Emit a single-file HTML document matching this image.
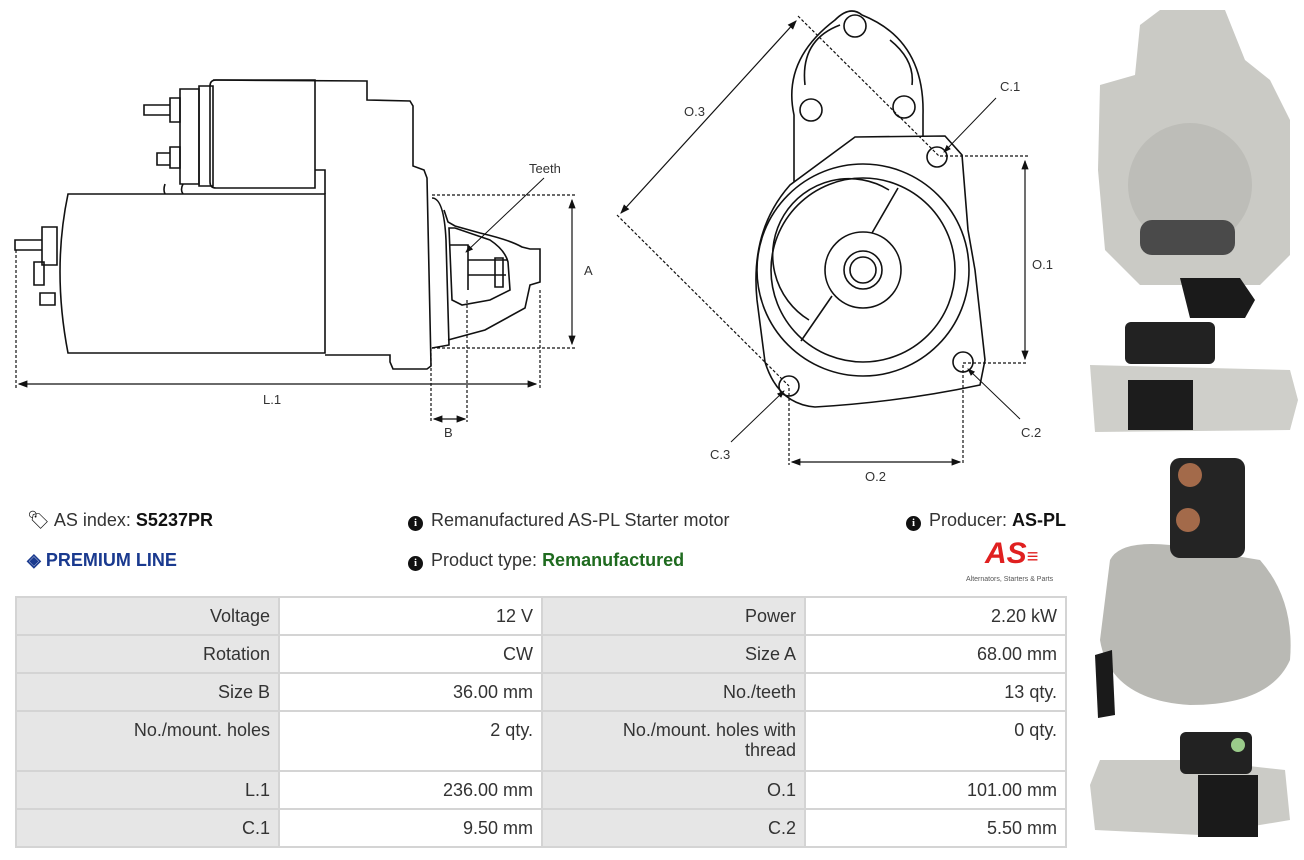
<!DOCTYPE html>
<html><head><meta charset="utf-8"><style>
body{margin:0;width:1304px;height:860px;background:#fff;font-family:"Liberation Sans",sans-serif;position:relative;overflow:hidden}
.t{position:absolute;font-size:18px;color:#333;white-space:nowrap;line-height:20px}
.i{display:inline-block;width:15px;height:15px;border-radius:50%;background:#111;color:#fff;font-size:11px;font-weight:bold;text-align:center;line-height:15px;font-family:"Liberation Serif",serif;vertical-align:0px;margin-right:3px}
table{position:absolute;left:15px;top:596px;border-collapse:collapse;width:1052px;font-size:18px;color:#333}
td{border:2px solid #d4d4d4;padding:8px 8px;text-align:right;vertical-align:top;height:20px;line-height:20px}
td.l{background:#e6e6e6}
</style></head><body>
<svg width="1304" height="860" style="position:absolute;left:0;top:0" fill="none" stroke="#111" stroke-width="1.6" font-family="Liberation Sans" font-size="13">
<defs><marker id="a" markerWidth="8" markerHeight="8" refX="7" refY="4" orient="auto-start-reverse"><path d="M0,1L8,4L0,7z" fill="#111" stroke="none"/></marker></defs>
<path d="M68,194 L325,194 L325,353 L68,353 Q52,270 68,194 Z"/>
<path d="M213,80 L367,81 L367,100 L410,101 L413,106 L413,166 L424,170 L427,178 L431,366 L427,369 L393,369 L390,362 L390,355 L325,355"/>
<path d="M216,80 L315,80 L315,188 L216,188 Q210,188 210,182 L210,86 Q210,80 216,80 Z"/>
<path d="M199,86 L213,86 L213,186 L199,186 Z"/>
<path d="M180,89 L199,89 L199,184 L180,184 Z"/>
<path d="M315,170 L325,170 L325,194"/>
<path d="M170,98 L180,98 L180,122 L170,122 Z M144,105 L170,105 L170,115 L144,115 Z M170,147 L180,147 L180,168 L170,168 Z M157,153 L170,153 L170,165 L157,165 Z"/>
<path d="M165,184 Q163,190 165,194 M183,184 Q180,190 183,194"/>
<path d="M42,227 L57,227 L57,265 L42,265 Z M15,240 L42,240 L42,250 L15,250 Z M34,262 L44,262 L44,285 L34,285 Z M40,293 L55,293 L55,305 L40,305 Z"/>
<path d="M432,198 Q444,198 446,240 L449,345 L432,348"/>
<path d="M444,210 L448,222 L455,226 L480,233 Q510,240 522,247 L530,249 L540,249 L540,282 L530,285 L525,308 L485,330 L448,340"/>
<path d="M449,228 L455,228 L490,240 Q505,250 508,262 L510,290 L490,300 L462,305 L452,300 Z"/>
<path d="M450,245 L468,245 L468,290 M468,260 L508,260 M495,258 L503,258 L503,287 L495,287 Z M468,275 L506,275"/>
<line x1="544" y1="178" x2="466" y2="252" stroke-width="1" marker-end="url(#a)"/>
<text x="529" y="173" fill="#333" stroke="none">Teeth</text>
<g stroke-dasharray="3,2" stroke-width="1.2">
<path d="M432,195 L575,195 M432,348 L575,348 M16,250 L16,388 M540,290 L540,388 M431,348 L431,422 M467,300 L467,422"/>
</g>
<line x1="572" y1="200" x2="572" y2="344" stroke-width="1.2" marker-start="url(#a)" marker-end="url(#a)"/>
<line x1="19" y1="384" x2="536" y2="384" stroke-width="1.2" marker-start="url(#a)" marker-end="url(#a)"/>
<line x1="434" y1="419" x2="465" y2="419" stroke-width="1.2" marker-start="url(#a)" marker-end="url(#a)"/>
<text x="584" y="275" fill="#333" stroke="none">A</text>
<text x="263" y="404" fill="#333" stroke="none">L.1</text>
<text x="444" y="437" fill="#333" stroke="none">B</text>
<path d="M794,182 L794,115 Q782,60 835,20 Q850,5 862,15 Q925,40 923,115 L923,136"/>
<path d="M805,85 Q800,40 840,25 M890,40 Q915,60 912,85"/>
<circle cx="855" cy="26" r="11"/><circle cx="811" cy="110" r="11"/><circle cx="904" cy="107" r="11"/>
<path d="M855,137 L945,136 L962,155 L968,230 L975,270 L985,360 L980,385 Q900,402 815,407 Q778,404 765,362 L757,300 Q750,230 790,185 Z"/>
<circle cx="863" cy="270" r="106"/><circle cx="863" cy="270" r="92"/>
<path d="M889,190 A73,73 0 1,0 809,320"/>
<path d="M898,188 L872,233 M832,296 L801,341"/>
<circle cx="863" cy="270" r="38"/><circle cx="863" cy="270" r="19"/><circle cx="863" cy="270" r="13"/>
<circle cx="937" cy="157" r="10"/><circle cx="963" cy="362" r="10"/><circle cx="789" cy="386" r="10"/>
<g stroke-dasharray="3,2" stroke-width="1.2">
<path d="M798,16 L940,157 M617,215 L789,386 M940,156 L1028,156 M963,363 L1028,363 M789,388 L789,465 M963,365 L963,465"/>
</g>
<line x1="796" y1="21" x2="621" y2="213" stroke-width="1.2" marker-start="url(#a)" marker-end="url(#a)"/>
<line x1="1025" y1="161" x2="1025" y2="359" stroke-width="1.2" marker-start="url(#a)" marker-end="url(#a)"/>
<line x1="792" y1="462" x2="960" y2="462" stroke-width="1.2" marker-start="url(#a)" marker-end="url(#a)"/>
<line x1="996" y1="98" x2="944" y2="152" stroke-width="1" marker-end="url(#a)"/>
<line x1="1020" y1="419" x2="968" y2="369" stroke-width="1" marker-end="url(#a)"/>
<line x1="731" y1="442" x2="784" y2="391" stroke-width="1" marker-end="url(#a)"/>
<g fill="#333" stroke="none"><text x="684" y="116">O.3</text><text x="1000" y="91">C.1</text><text x="1032" y="269">O.1</text><text x="1021" y="437">C.2</text><text x="710" y="459">C.3</text><text x="865" y="481">O.2</text></g>
<g stroke="none">
<path d="M1100,85 L1135,75 L1140,25 L1160,10 L1225,10 L1245,60 L1270,80 L1290,120 L1290,255 L1260,285 L1140,285 L1105,250 L1098,170 Z" fill="#cacac5"/>
<circle cx="1190" cy="185" r="62" fill="#bdbdb8"/><rect x="1140" y="220" width="95" height="35" rx="12" fill="#4a4a4a"/>
<path d="M1180,278 L1240,278 L1255,300 L1245,318 L1190,318 Z" fill="#1a1a1a"/>
<path d="M1090,365 L1290,370 L1298,400 L1290,430 L1095,432 Z" fill="#cfcfca"/>
<rect x="1125" y="322" width="90" height="42" rx="6" fill="#222"/><rect x="1128" y="380" width="65" height="50" fill="#1c1c1c"/>
<path d="M1110,560 Q1120,540 1170,545 L1260,560 Q1295,600 1290,660 Q1270,705 1190,705 Q1110,700 1100,640 Z" fill="#b9b9b4"/>
<rect x="1170" y="458" width="75" height="100" rx="10" fill="#242424"/>
<circle cx="1190" cy="475" r="12" fill="#a36a4a"/><circle cx="1188" cy="520" r="12" fill="#a36a4a"/>
<path d="M1095,655 L1112,650 L1115,715 L1098,718 Z" fill="#1a1a1a"/>
<path d="M1090,785 L1100,760 L1195,760 L1285,770 L1290,820 L1200,835 L1095,830 Z" fill="#cbcbc6"/>
<rect x="1180" y="732" width="72" height="42" rx="6" fill="#222"/><rect x="1198" y="775" width="60" height="62" fill="#1a1a1a"/>
<circle cx="1238" cy="745" r="7" fill="#9acb8a"/>
</g>
</svg>
<div class="t" style="left:27px;top:510px"><span style="color:#111">&#x1F3F7;&#xFE0E;</span> AS index: <b style="color:#111">S5237PR</b></div>
<div class="t" style="left:27px;top:550px;color:#1a3a8f;font-weight:bold">&#9672; PREMIUM LINE</div>
<div class="t" style="left:408px;top:510px"><span class="i">i</span> Remanufactured AS-PL Starter motor</div>
<div class="t" style="left:408px;top:550px"><span class="i">i</span> Product type: <b style="color:#1f6b1f">Remanufactured</b></div>
<div class="t" style="left:906px;top:510px"><span class="i">i</span> Producer: <b style="color:#111">AS-PL</b></div>
<div class="t" style="left:985px;top:538px;color:#e02020;font-weight:bold;font-style:italic;font-size:30px;line-height:32px">AS<span style="font-size:20px">&#8801;</span></div>
<div class="t" style="left:966px;top:570px;font-size:7px;color:#555">Alternators, Starters &amp; Parts</div>
<table>
<tr><td class="l" style="width:245px">Voltage</td><td style="width:245px">12 V</td><td class="l" style="width:245px">Power</td><td>2.20 kW</td></tr>
<tr><td class="l">Rotation</td><td>CW</td><td class="l">Size A</td><td>68.00 mm</td></tr>
<tr><td class="l">Size B</td><td>36.00 mm</td><td class="l">No./teeth</td><td>13 qty.</td></tr>
<tr><td class="l" style="height:42px">No./mount. holes</td><td>2 qty.</td><td class="l">No./mount. holes with<br>thread</td><td>0 qty.</td></tr>
<tr><td class="l">L.1</td><td>236.00 mm</td><td class="l">O.1</td><td>101.00 mm</td></tr>
<tr><td class="l">C.1</td><td>9.50 mm</td><td class="l">C.2</td><td>5.50 mm</td></tr>
</table>
</body></html>
